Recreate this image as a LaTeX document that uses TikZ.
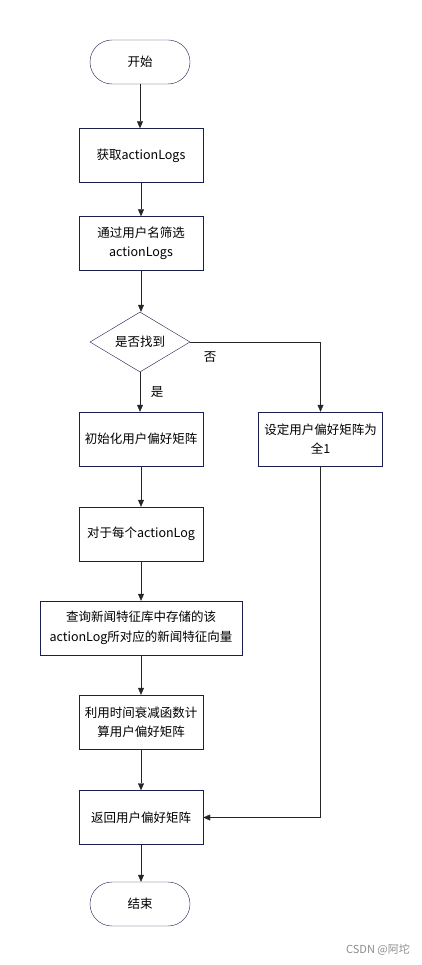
\documentclass[tikz,border=0pt]{standalone}
\usepackage{fontspec}
\setmainfont{Noto Sans CJK SC}
\usetikzlibrary{shapes.geometric,arrows.meta}
\definecolor{navy}{HTML}{1B1F4F}
\begin{document}
\begin{tikzpicture}[x=1pt, y=-1pt, font=\fontsize{12.5}{19.5}\selectfont]
    \tikzstyle{every node}=[inner sep=1pt, align=center]
    \tikzstyle{proc}=[rectangle, draw=navy, minimum width=124pt, minimum height=54pt]
    \tikzstyle{term}=[rectangle, rounded corners=22pt, draw=navy, minimum width=100pt, minimum height=44pt]
    \tikzstyle{cond}=[diamond, aspect=1.667, draw=navy, minimum width=100pt, minimum height=60pt, inner sep=0pt]
    \tikzstyle{flow}=[draw=black!85, -{Triangle[length=7pt, width=6pt]}]
    \useasboundingbox (0,0) rectangle (422,965);
    \node [term] (start) at (140,62) {开始};
    \node [proc] (fetch) at (141,155.5) {获取actionLogs};
    \node [proc] (filter) at (141,243.5) {通过用户名筛选\\actionLogs};
    \node [cond] (found) at (140,342) {是否找到};
    \node [proc] (init) at (141,439) {初始化用户偏好矩阵};
    \node [proc] (ones) at (320.5,439) {设定用户偏好矩阵为\\全1};
    \node [proc] (each) at (141,534) {对于每个actionLog};
    \node [proc, minimum width=202pt] (query) at (141,628) {查询新闻特征库中存储的该\\actionLog所对应的新闻特征向量};
    \node [proc] (decay) at (141,722) {利用时间衰减函数计\\算用户偏好矩阵};
    \node [proc] (ret) at (141,817.5) {返回用户偏好矩阵};
    \node [term] (stop) at (140,904) {结束};
    \node (yes) at (157,392) {是};
    \node (no) at (210,357) {否};
    \node [text=black!45, font=\fontsize{11}{13}\selectfont] (mark) at (378,950) {CSDN @阿坨};
    \draw [flow] (start) -- (start |- fetch.north);
    \draw [flow] (fetch) -- (fetch |- filter.north);
    \draw [flow] (filter) -- (filter |- found.north);
    \draw [flow] (found) -- (found |- init.north);
    \draw [flow] (found.east) -| (ones.north);
    \draw [flow] (init) -- (init |- each.north);
    \draw [flow] (each) -- (each |- query.north);
    \draw [flow] (query) -- (query |- decay.north);
    \draw [flow] (decay) -- (decay |- ret.north);
    \draw [flow] (ones.south) |- (ret.east);
    \draw [flow] (ret) -- (ret |- stop.north);
\end{tikzpicture}
\end{document}
